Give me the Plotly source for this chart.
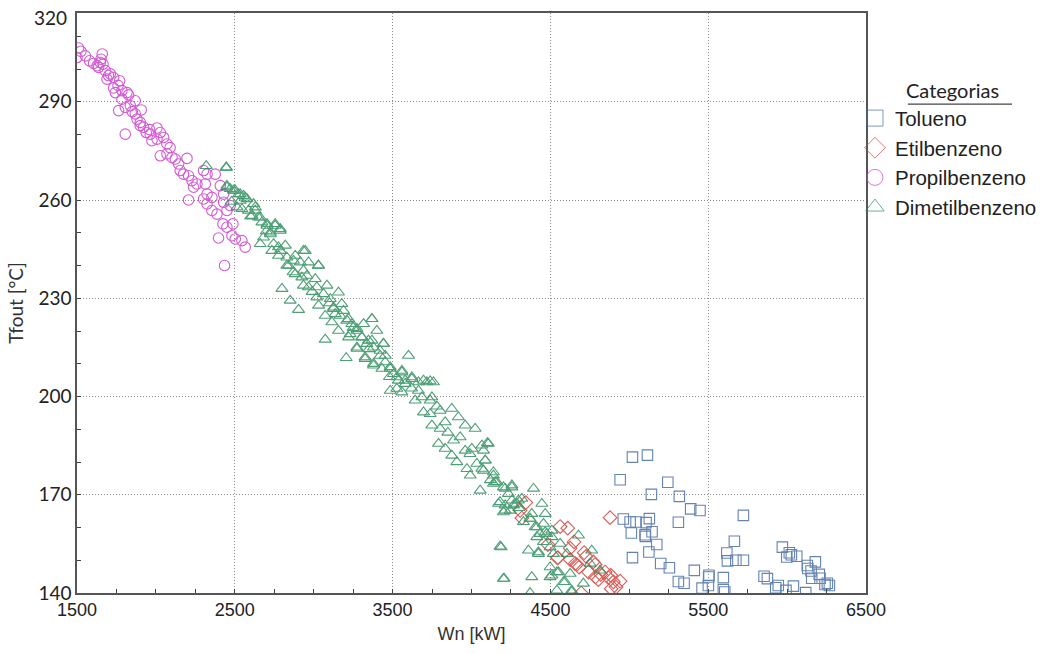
import plotly.graph_objects as go

# Wn [kW] and Tfout [°C] per component
tol_wn = [5020, 5115, 4942, 5244, 5140, 5317, 5389, 5448, 5723, 4962, 5005, 5043, 5106, 5127,
          5311, 5013, 5144, 5100, 5102, 5174, 5124, 5020, 5666, 5618, 5622, 5675, 5723, 5199,
          5254, 5412, 5505, 5503, 5596, 5311, 5347, 5461, 5501, 5596, 5605, 5970, 6014, 6027,
          6061, 5998, 6179, 6128, 6131, 6152, 6204, 6156, 6209, 6255, 6268, 6240, 5854, 5875,
          5944, 5928, 5993, 6040, 6118]
tol_tf = [181.5, 182.1, 174.6, 173.8, 170.1, 169.5, 165.7, 165.2, 163.7, 162.6, 161.7, 161.7, 161.5, 162.7,
          161.6, 158.3, 158.7, 157.8, 157.3, 154.8, 152.5, 150.8, 155.8, 152.2, 149.8, 150.0, 150.0, 149.0,
          147.7, 146.9, 145.4, 144.9, 144.7, 143.5, 143.0, 141.5, 142.3, 141.0, 140.3, 154.0, 152.3, 151.7,
          151.2, 151.0, 149.5, 148.4, 147.5, 146.7, 145.7, 144.5, 144.5, 143.0, 142.3, 142.6, 145.1, 144.4,
          142.3, 141.6, 140.8, 142.1, 140.1]

etil_wn = [4344, 4308, 4319, 4878, 4562, 4610, 4484, 4625, 4650, 4545, 4625, 4714, 4726, 4667,
           4682, 4772, 4783, 4741, 4785, 4819, 4847, 4883, 4899, 4942, 4885, 4916, 4695, 4804,
           4867, 4547, 4657]
etil_tf = [167.6, 165.2, 162.9, 163.0, 160.3, 159.8, 154.8, 153.7, 155.6, 150.7, 150.2, 152.3, 151.2, 148.7,
           147.9, 149.5, 148.7, 146.4, 144.9, 145.7, 146.4, 145.4, 143.4, 143.6, 141.3, 141.8, 140.0, 144.1,
           144.7, 150.8, 149.0]

prop_wn = [1510, 1525, 1500, 1553, 1580, 1605, 1627, 1652, 1648, 1665, 1637, 1679, 1711, 1732,
           1690, 1770, 1732, 1743, 1785, 1817, 1827, 1785, 1869, 1838, 1806, 1764, 1907, 1869,
           1880, 1901, 1922, 1901, 1806, 1939, 1964, 2007, 2028, 2049, 1975, 2007, 2070, 2028,
           2070, 2102, 2123, 2197, 2144, 2154, 2175, 2207, 2229, 2260, 2239, 2302, 2324, 2376,
           2207, 2313, 2324, 2302, 2355, 2324, 2355, 2387, 2408, 2429, 2450, 2425, 2450, 2488,
           2482, 2503, 2545, 2566, 2397, 2435, 2429, 2471, 1660, 1700, 1760, 1850, 1960, 2090]
prop_tf = [306.4, 305.4, 303.5, 304.0, 302.5, 301.7, 301.0, 303.0, 302.0, 301.5, 300.5, 299.5, 298.5, 297.4,
           296.9, 296.4, 294.2, 292.8, 293.4, 292.8, 292.1, 290.8, 290.3, 288.8, 288.3, 287.3, 287.5, 286.3,
           284.7, 283.7, 282.2, 282.7, 280.1, 280.6, 280.1, 282.0, 280.6, 279.1, 278.1, 278.6, 277.1, 273.5,
           274.1, 273.0, 272.5, 272.7, 271.0, 269.0, 267.9, 267.4, 265.9, 264.9, 263.9, 269.0, 267.9, 267.9,
           260.0, 264.9, 261.8, 260.3, 260.8, 258.8, 256.8, 255.7, 264.4, 261.8, 256.8, 252.7, 251.7, 252.7,
           249.1, 248.1, 247.6, 245.6, 248.4, 240.0, 259.3, 258.3, 304.6, 298.0, 295.0, 287.0, 281.5, 276.0]

dime_wn = [2319, 2446, 2446, 2450, 2471, 2503, 2524, 2555, 2577, 2534, 2514, 2545, 2587, 2630,
           2609, 2650, 2672, 2704, 2756, 2788, 2725, 2661, 2735, 2777, 2820, 2777, 2830, 2883,
           2935, 2841, 2915, 2967, 3030, 2883, 2925, 2957, 3010, 2935, 2967, 3020, 3084, 2799,
           2851, 2904, 3020, 3062, 3105, 3157, 3031, 3073, 3126, 3136, 3178, 3189, 3115, 3157,
           3221, 3242, 3274, 3316, 3369, 3400, 3221, 3274, 3305, 3337, 3369, 3073, 3206, 3326,
           3379, 3421, 3442, 3453, 3432, 3485, 3506, 3559, 3601, 3537, 3580, 3622, 3664, 3696,
           3738, 3749, 3485, 3559, 3125, 3168, 3210, 3369, 3231, 3274, 3305, 3347, 3379, 3442,
           3274, 3326, 3379, 3421, 3453, 3485, 3527, 3559, 3580, 3622, 3664, 3717, 3759, 3527,
           3643, 3686, 3738, 3696, 3738, 3801, 3875, 3917, 3749, 3801, 3833, 3960, 4023, 3791,
           3833, 3886, 3928, 3875, 3907, 3960, 4002, 4066, 4107, 3971, 3992, 4034, 4076, 4087,
           4139, 4160, 4139, 4055, 4202, 4256, 4234, 4393, 4171, 4213, 4256, 4287, 4319, 4202,
           4245, 4329, 4371, 4382, 4446, 4467, 4414, 4456, 4435, 4477, 4509, 4456, 4498, 4562,
           4678, 4361, 4424, 4519, 4604, 4762, 4188, 4202, 4382, 4498, 4541, 4583, 4625, 4709,
           4498, 4371, 4635, 4752, 4815, 4101, 4076, 4087, 4066, 4139, 4150, 4213, 4256, 4181,
           4213, 4266, 4297, 4371, 4403, 4467, 4414, 4509, 4181, 4424, 4551, 4593, 4207, 4509,
           4541, 4635, 2450, 2492, 2534, 2566, 2619, 2630, 2661, 2704, 2756, 2788, 2725, 2682,
           2746, 2788, 2946, 2830, 2872, 2935, 3030, 2480, 2600, 2700, 2870, 2990, 3100, 3250,
           3350, 3480, 3620, 3780, 3850, 3990, 4120, 4300]
dime_tf = [270.4, 270.0, 269.8, 264.4, 263.4, 262.9, 261.8, 261.3, 260.3, 259.8, 257.8, 257.3, 256.8, 257.8,
           255.2, 254.7, 253.2, 252.2, 252.7, 251.2, 249.6, 246.6, 244.5, 245.6, 246.1, 243.0, 242.5, 243.0,
           244.5, 240.0, 241.0, 241.0, 240.0, 237.4, 236.4, 236.9, 235.9, 233.9, 233.4, 233.4, 233.9, 232.9,
           229.3, 226.5, 230.3, 231.3, 229.8, 231.8, 227.8, 224.7, 227.2, 225.2, 228.3, 226.2, 222.7, 220.1,
           223.7, 222.2, 220.1, 222.2, 223.7, 220.1, 218.1, 215.0, 218.1, 216.1, 217.1, 217.4, 211.8, 211.5,
           210.0, 214.0, 216.1, 212.5, 208.5, 209.0, 206.9, 207.9, 212.5, 204.9, 203.9, 205.4, 201.8, 204.9,
           204.7, 199.8, 201.8, 201.3, 226.8, 224.7, 223.2, 223.7, 219.1, 220.7, 218.1, 217.1, 215.0, 216.1,
           214.6, 212.0, 209.5, 212.5, 210.5, 208.5, 205.9, 207.4, 204.9, 205.9, 204.4, 204.4, 204.4, 202.4,
           198.8, 199.8, 198.8, 195.2, 194.7, 195.7, 196.3, 193.7, 191.2, 190.2, 192.2, 191.2, 190.2, 185.6,
           184.1, 186.6, 187.6, 182.0, 180.0, 183.5, 184.1, 185.1, 185.6, 177.9, 175.9, 179.5, 177.4, 180.5,
           175.9, 173.9, 173.4, 171.3, 172.3, 172.9, 170.3, 171.9, 167.3, 166.8, 168.3, 167.3, 168.8, 164.7,
           165.2, 161.7, 162.7, 164.2, 167.3, 164.2, 160.1, 161.2, 158.1, 158.1, 159.1, 155.6, 154.0, 155.1,
           157.6, 153.0, 152.0, 152.0, 152.0, 153.0, 154.0, 144.4, 144.9, 147.9, 146.4, 143.4, 145.9, 142.9,
           144.9, 140.0, 140.8, 149.0, 146.9, 185.8, 183.5, 180.5, 178.0, 176.9, 173.9, 171.9, 172.3, 167.8,
           165.2, 166.8, 168.3, 162.7, 160.1, 158.6, 157.1, 157.1, 154.2, 152.5, 146.4, 143.4, 144.4, 145.4,
           140.8, 140.3, 263.9, 262.9, 261.8, 260.8, 258.8, 256.8, 254.7, 252.7, 252.2, 250.7, 250.1, 248.6,
           246.6, 244.5, 244.5, 240.0, 241.5, 238.5, 240.0, 259.5, 255.0, 250.5, 238.0, 232.0, 228.5, 221.0,
           214.5, 206.0, 202.5, 197.0, 189.0, 182.5, 174.5, 166.0]

series = [
    ("Tolueno", tol_wn, tol_tf, "square-open", "#4a6fa5"),
    ("Etilbenzeno", etil_wn, etil_tf, "diamond-open", "#d4413a"),
    ("Propilbenzeno", prop_wn, prop_tf, "circle-open", "#cc3fcc"),
    ("Dimetilbenzeno", dime_wn, dime_tf, "triangle-up-open", "#2f8f5f"),
]

fig = go.Figure()
for i, (name, xs, ys, sym, col) in enumerate(series):
    fig.add_trace(go.Scatter(
        x=xs, y=ys, mode="markers", name=name, showlegend=False,
        marker=dict(symbol=sym, size=10.5, color=col, line=dict(color=col, width=1.1)),
        opacity=0.85,
    ))
# legend entries with larger symbols
for i, (name, xs, ys, sym, col) in enumerate(series):
    fig.add_trace(go.Scatter(
        x=[None], y=[None], mode="markers", name=name, legendgroup=f"g{i}",
        marker=dict(symbol=sym, size=16, color=col, line=dict(color=col, width=1)),
        opacity=0.7,
    ))

axis_common = dict(
    showline=True, linecolor="#555555", linewidth=1.5, mirror=True,
    showgrid=True, gridcolor="#8a8a8a", griddash="1px,2px", gridwidth=1,
    zeroline=False, ticks="inside", ticklen=4, tickcolor="#444444",
)

fig.update_xaxes(
    range=[1500, 6500], tickvals=[1500, 2500, 3500, 4500, 5500, 6500],
    minor=dict(dtick=250, ticks="inside", ticklen=4, tickcolor="#444444", showgrid=False),
    tickfont=dict(family="Liberation Sans, Arial", size=18, color="#222222"),
    title=dict(text="Wn [kW]", font=dict(family="Liberation Sans, Arial", size=18, color="#333333"),
               standoff=8),
    **axis_common,
)
fig.update_yaxes(
    range=[140, 317.1], tickvals=[140, 170, 200, 230, 260, 290],
    minor=dict(dtick=10, tick0=140, ticks="inside", ticklen=4, tickcolor="#444444", showgrid=False),
    tickfont=dict(family="Lato, Carlito, sans-serif", size=19, color="#222222"),
    title=dict(text="Tfout [°C]", font=dict(family="Lato, sans-serif", size=19, color="#333333"),
               standoff=10),
    **axis_common,
)

fig.update_layout(
    width=1055, height=653,
    margin=dict(l=77, r=189, t=13, b=60),
    plot_bgcolor="white", paper_bgcolor="white",
    legend=dict(
        x=0.986, xanchor="left", y=0.853, yanchor="top",
        bgcolor="rgba(0,0,0,0)", borderwidth=0,
        font=dict(family="Liberation Sans, Arial", size=20.5, color="#222222"),
        traceorder="grouped", tracegroupgap=0, itemwidth=30,
    ),
    annotations=[
        dict(text="Categorias", xref="paper", yref="paper", x=1.11, y=0.867,
             xanchor="center", yanchor="middle", showarrow=False,
             font=dict(family="Lato, sans-serif", size=20, color="#222222")),
        dict(text="320", xref="paper", yref="paper", x=0, y=1, xanchor="right", yanchor="middle",
             xshift=-8, yshift=-4, showarrow=False,
             font=dict(family="Lato, sans-serif", size=19, color="#222222")),
    ],
    shapes=[
        dict(type="line", xref="paper", yref="paper", x0=1.053, x1=1.185, y0=0.843, y1=0.843,
             line=dict(color="#444444", width=1.2)),
    ],
)

fig.write_html("out.html")
